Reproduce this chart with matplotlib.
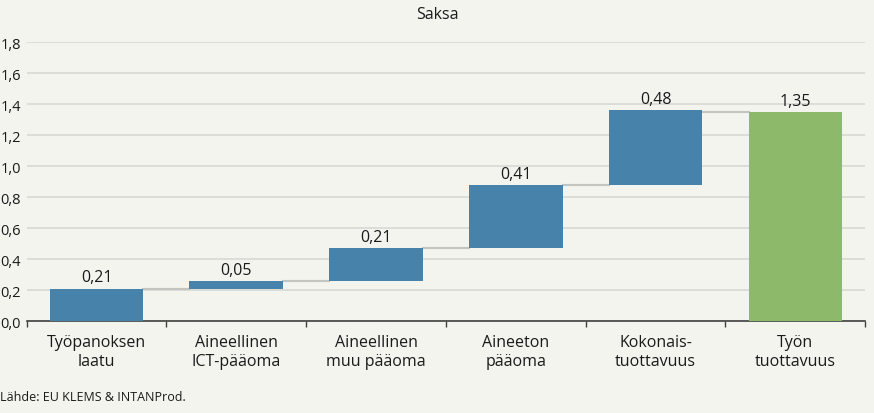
import matplotlib
matplotlib.use("Agg")
import matplotlib.pyplot as plt
import numpy as np

categories = ["Työpanoksen\nlaatu", "Aineellinen\nICT-pääoma", "Aineellinen\nmuu pääoma",
              "Aineeton\npääoma", "Kokonais-\ntuottavuus", "Työn\ntuottavuus"]
contrib = [0.21, 0.05, 0.21, 0.41, 0.48]
total = 1.35
title = "Saksa"
source = "Lähde: EU KLEMS & INTANProd."
yticks = [0.0, 0.2, 0.4, 0.6, 0.8, 1.0, 1.2, 1.4, 1.6, 1.8]

bg = "#F4F4EF"
blue = "#4682A9"
green = "#8CBA6A"

plt.rcParams['font.family'] = ['Open Sans', 'DejaVu Sans']

fig = plt.figure(figsize=(8.74, 4.14), dpi=100, facecolor=bg)
ax = fig.add_axes([0.0305, 0.222, 0.9595, 0.674])
ax.set_facecolor(bg)

n = len(categories)
x = np.arange(n)
w = 0.67
cum = np.cumsum(contrib)
bottoms = np.concatenate([[0], cum[:-1]])

ax.bar(x[:-1], contrib, bottom=bottoms, width=w, color=blue, zorder=3)
ax.bar(x[-1], total, width=w, color=green, zorder=3)

# connectors
levels = list(cum[:-1]) + [total]
for i, lv in enumerate(levels):
    ax.plot([x[i] + w / 2, x[i + 1] - w / 2], [lv, lv], color="#C4C4C0", lw=1.5, zorder=2)

# labels
tops = list(cum) + [total]
vals = contrib + [total]
for xi, t, v in zip(x, tops, vals):
    ax.text(xi, t + 0.02, f"{v:.2f}".replace(".", ","), ha="center", va="bottom",
            fontsize=11.5, color="#1a1a1a")

ax.set_xlim(-0.5, n - 0.5)
ax.set_ylim(0, 1.8)
ax.set_yticks(yticks)
ax.set_yticklabels([f"{v:.1f}".replace(".", ",") for v in yticks], fontsize=10.5, color="#1a1a1a")
ax.yaxis.grid(True, color="#DADAD6", lw=1.3, zorder=0)
ax.set_axisbelow(True)
ax.tick_params(axis="y", length=0, pad=4)

ax.set_xticks(x)
ax.set_xticklabels(categories, fontsize=11.5, color="#1a1a1a", linespacing=1.3)
ax.tick_params(axis="x", which="major", length=0, pad=9)
ax.set_xticks(np.arange(-0.5, n), minor=True)
ax.tick_params(axis="x", which="minor", length=4, color="#404040", width=1)

for s in ["top", "right", "left"]:
    ax.spines[s].set_visible(False)
ax.spines["bottom"].set_color("#404040")
ax.spines["bottom"].set_linewidth(1.2)

fig.text(0.5, 0.963, title, ha="center", va="center", fontsize=11.5, color="#1a1a1a")
fig.text(0.0, 0.04, source, ha="left", va="center", fontsize=9, color="#1a1a1a")

fig.savefig("out.png", dpi=100, facecolor=bg)
